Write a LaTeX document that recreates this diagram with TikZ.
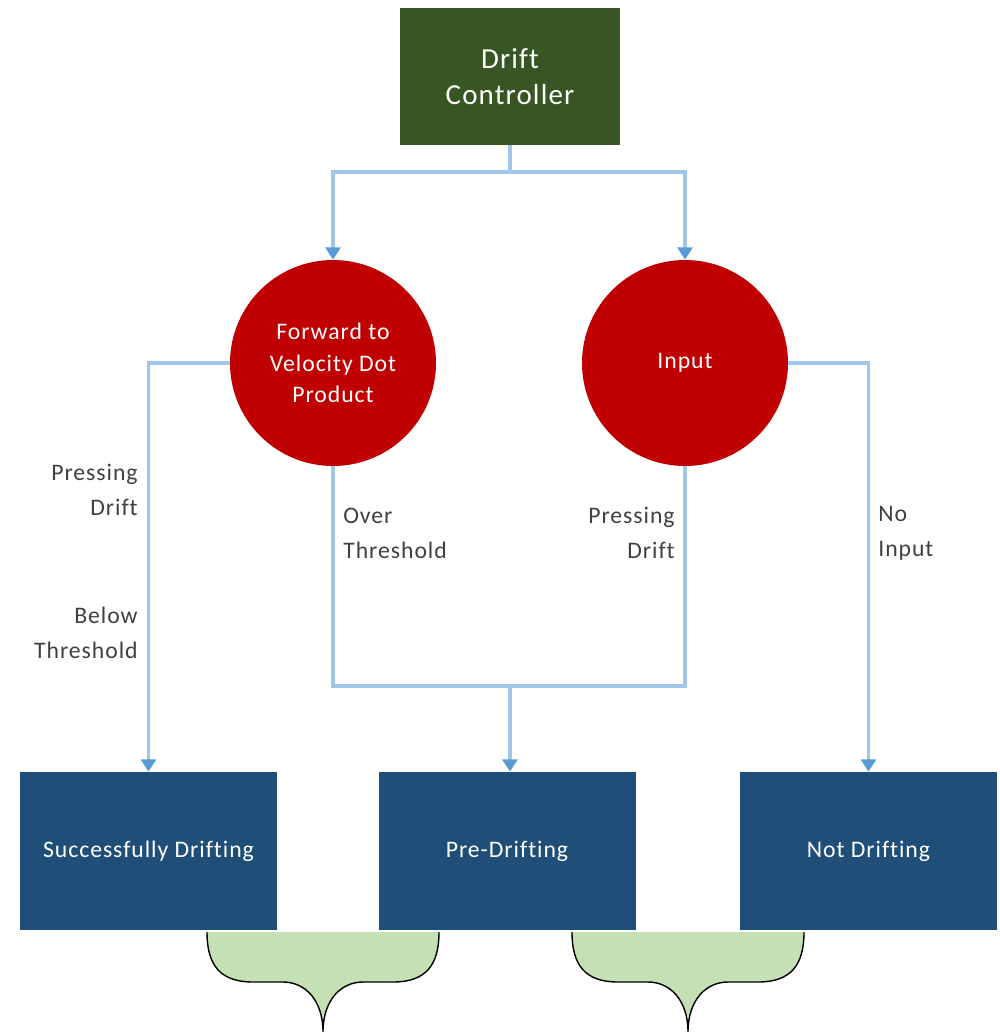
\documentclass[tikz,border=0pt]{standalone}
\usepackage{fontspec}
\setmainfont{Carlito}[LetterSpace=4, Ligatures=CommonOff]
\usetikzlibrary{arrows.meta}
\definecolor{ctrlgreen}{HTML}{375623}
\definecolor{nodered}{HTML}{C00000}
\definecolor{stateblue}{HTML}{1F4E79}
\definecolor{linkblue}{HTML}{A2C6EA}
\definecolor{tipblue}{HTML}{5B9BD5}
\definecolor{bracegreen}{HTML}{C5E0B4}
\definecolor{labelgray}{HTML}{404040}
\def\pu{0.02cm}
\tikzset{
  ctrlbox/.style={fill=ctrlgreen, minimum width=220*\pu, minimum height=137*\pu,
    text=white, font=\fontsize{16.5pt}{20.5pt}\selectfont, align=center, inner sep=0pt},
  decision/.style={circle, fill=nodered, minimum size=206*\pu, text=white,
    font=\fontsize{13.5pt}{18pt}\selectfont, align=center, inner sep=0pt},
  statebox/.style={fill=stateblue, minimum width=257*\pu, minimum height=158*\pu,
    text=white, font=\fontsize{13.5pt}{15pt}\selectfont, inner sep=0pt},
  link/.style={draw=linkblue, line width=2.2pt},
  flow/.style={link, -{Triangle[length=7pt, width=8.5pt, color=tipblue]}},
  cond/.style={text=labelgray, font=\fontsize{13.5pt}{20pt}\selectfont, inner sep=0pt},
  greenbrace/.pic={
    \fill[bracegreen] (-116,0) .. controls (-116,33) and (-103,50) .. (-70,50)
      -- (-40,50) .. controls (-18,50) and (0,68) .. (0,100)
      .. controls (0,68) and (18,50) .. (40,50) -- (70,50)
      .. controls (103,50) and (116,33) .. (116,0) -- cycle;
    \draw[black, line width=0.8pt] (-116,0) .. controls (-116,33) and (-103,50) .. (-70,50)
      -- (-40,50) .. controls (-18,50) and (0,68) .. (0,100)
      .. controls (0,68) and (18,50) .. (40,50) -- (70,50)
      .. controls (103,50) and (116,33) .. (116,0);
  }
}
\begin{document}
\begin{tikzpicture}[x=0.02cm, y=-0.02cm]
  \useasboundingbox (0,0) rectangle (1000,1032);

  % top controller
  \node[ctrlbox] (dc) at (510,76.5) {Drift\\Controller};

  % decision circles
  \node[decision] (fw) at (333,363) {Forward to\\Velocity Dot\\Product};
  \node[decision] (in) at (685,363) {Input};

  % resulting states
  \node[statebox] (sd) at (148.5,851) {Successfully Drifting};
  \node[statebox] (pd) at (507,851) {Pre-Drifting};
  \node[statebox] (nd) at (868.5,851) {Not Drifting};

  % junction points
  \coordinate (split) at (510,172);
  \coordinate (mergeL) at (333,686);
  \coordinate (mergeR) at (685,686);
  \coordinate (mergeM) at (510,686);

  % controller to the two checks
  \draw[link] (dc.south) -- (split);
  \draw[flow] (split) -| (fw.north);
  \draw[flow] (split) -| (in.north);

  % outcomes
  \draw[flow] (fw.west) -| (sd.north);
  \draw[link] (fw.south) -- (mergeL) -- (mergeR) -- (in.south);
  \draw[flow] (mergeM) -- (mergeM |- pd.north);
  \draw[flow] (in.east) -| (nd.north);

  % condition labels
  \node[cond, anchor=east, align=right] (l1) at (138,490) {Pressing\\Drift};
  \node[cond, anchor=east, align=right] (l2) at (138,633) {Below\\Threshold};
  \node[cond, anchor=west, align=left] (l3) at (343,533) {Over\\Threshold};
  \node[cond, anchor=east, align=right] (l4) at (675,533) {Pressing\\Drift};
  \node[cond, anchor=west, align=left] (l5) at (878,533) {No\\Input};

  % grouping braces under the states
  \pic at (323,932) {greenbrace};
  \pic at (688,932) {greenbrace};
\end{tikzpicture}
\end{document}
